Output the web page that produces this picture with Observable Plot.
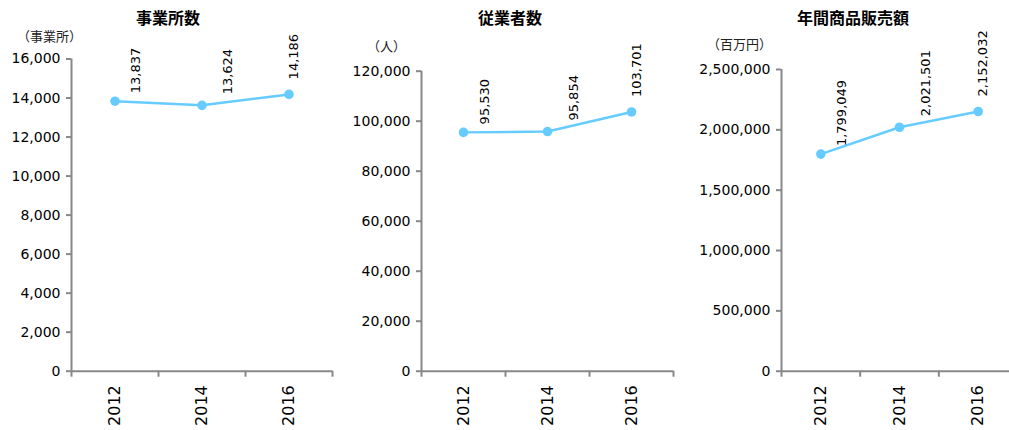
<!DOCTYPE html>
<html>
<head>
<meta charset="utf-8">
<script src="https://cdn.jsdelivr.net/npm/d3@7"></script>
<script src="https://cdn.jsdelivr.net/npm/@observablehq/plot@0.6"></script>
<style>
  html, body { margin: 0; padding: 0; background: #fff; overflow: hidden; }
  #wrap { position: relative; width: 1009px; height: 430px; overflow: hidden; }
  .panel { position: absolute; top: 0; }
  .panel svg { overflow: visible; max-width: none !important; }
  .title {
    position: absolute; transform: translate(-50%, -50%); white-space: nowrap;
    font-family: "Noto Sans CJK JP", sans-serif; font-weight: bold; font-size: 16px; color: #000;
  }
  .unit {
    position: absolute; transform: translateY(-50%); white-space: nowrap;
    font-family: "Noto Sans CJK JP", sans-serif; font-size: 13px; color: #222;
  }
</style>
</head>
<body>
<div id="wrap"></div>
<script>
// Survey years on the category axis
const years = ["2012", "2014", "2016"];

// Number of establishments (事業所)
const establishments = [13837, 13624, 14186];
const establishmentTicks = [0, 2000, 4000, 6000, 8000, 10000, 12000, 14000, 16000];

// Number of employees (人)
const employees = [95530, 95854, 103701];
const employeeTicks = [0, 20000, 40000, 60000, 80000, 100000, 120000];

// Annual merchandise sales (百万円)
const sales = [1799049, 2021501, 2152032];
const salesTicks = [0, 500000, 1000000, 1500000, 2000000, 2500000];

const LINE = "#66CCFF";
const AXIS = "#888888";
const NUM_FONT = "DejaVu Sans, Verdana, sans-serif";

// value labels sit up and to the right of each point
const labelShift = [[21, -8], [26, -11], [5, -15]];

const panels = [
  {title: "事業所数", unit: "（事業所）", values: establishments, ticks: establishmentTicks,
   left: 0, width: 340, marginLeft: 71, marginRight: 8, marginTop: 58.5,
   titleX: 168, unitX: 17, unitY: 35},
  {title: "従業者数", unit: "（人）", values: employees, ticks: employeeTicks,
   left: 340, width: 340, marginLeft: 81, marginRight: 7, marginTop: 70.7,
   titleX: 510, unitX: 367, unitY: 45},
  {title: "年間商品販売額", unit: "（百万円）", values: sales, ticks: salesTicks,
   left: 680, width: 337, marginLeft: 101, marginRight: 0, marginTop: 69,
   titleX: 853, unitX: 707, unitY: 43}
];

const fmt = d3.format(",");
const wrap = document.getElementById("wrap");

for (const p of panels) {
  const data = years.map((year, k) => ({pos: k + 0.5, year, value: p.values[k]}));
  const max = p.ticks[p.ticks.length - 1];

  const chart = Plot.plot({
    width: p.width,
    height: 430,
    marginLeft: p.marginLeft,
    marginRight: p.marginRight,
    marginTop: p.marginTop,
    marginBottom: 59.3,
    style: {fontFamily: NUM_FONT, fontSize: "14px", color: "#000", background: "transparent", maxWidth: "none"},
    x: {domain: [0, years.length], axis: null},
    y: {domain: [0, max], axis: null},
    marks: [
      // value axis
      Plot.axisY({ticks: p.ticks, tickFormat: fmt, tickSize: 5, tickPadding: 6, label: null,
                  stroke: AXIS, strokeWidth: 2, fill: "#000", fontSize: 14}),
      Plot.ruleX([0], {stroke: AXIS, strokeWidth: 2}),
      // category axis: ticks on band edges, year labels at band centres
      Plot.ruleY([0], {stroke: AXIS, strokeWidth: 2}),
      Plot.axisX({ticks: d3.range(years.length + 1), tickSize: 6, tickFormat: () => "", label: null,
                  stroke: AXIS, strokeWidth: 2}),
      Plot.axisX({ticks: data.map(d => d.pos), tickSize: 0, tickPadding: 14, tickRotate: -90, label: null,
                  tickFormat: v => years[Math.floor(v)], fill: "#000", fontSize: 16}),
      // series
      Plot.line(data, {x: "pos", y: "value", stroke: LINE, strokeWidth: 2.5}),
      Plot.dot(data, {x: "pos", y: "value", r: 4.8, fill: LINE, stroke: "none"}),
      ...data.map((d, k) => Plot.text([d], {
        x: "pos", y: "value", text: r => fmt(r.value), rotate: -90,
        textAnchor: "start", dx: labelShift[k][0], dy: labelShift[k][1],
        fill: "#000", fontSize: 13
      }))
    ]
  });

  const box = document.createElement("div");
  box.className = "panel";
  box.style.left = p.left + "px";
  box.style.width = p.width + "px";
  box.appendChild(chart);
  wrap.appendChild(box);

  const t = document.createElement("div");
  t.className = "title";
  t.style.left = p.titleX + "px";
  t.style.top = "17px";
  t.textContent = p.title;
  wrap.appendChild(t);

  const u = document.createElement("div");
  u.className = "unit";
  u.style.left = p.unitX + "px";
  u.style.top = p.unitY + "px";
  u.textContent = p.unit;
  wrap.appendChild(u);
}
</script>
</body>
</html>
